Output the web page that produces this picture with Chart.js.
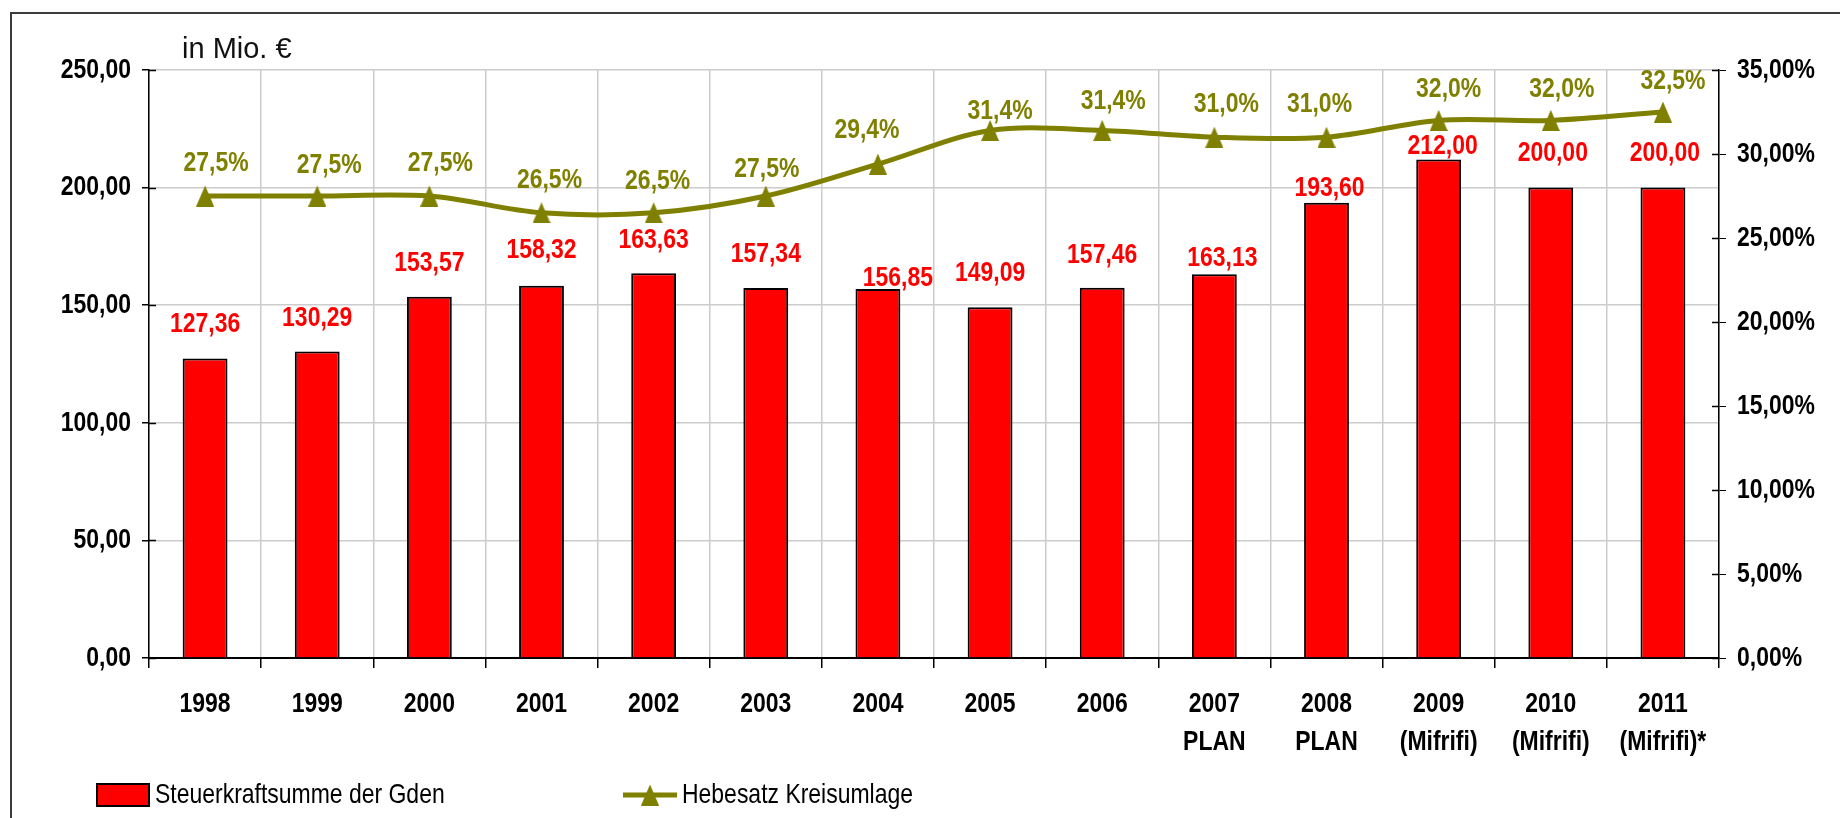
<!DOCTYPE html>
<html>
<head>
<meta charset="utf-8">
<title>Steuerkraftsumme der Gden / Hebesatz Kreisumlage</title>
<script src="https://cdn.jsdelivr.net/npm/chart.js@4.4.1/dist/chart.umd.min.js"></script>
<style>
  html, body { margin: 0; padding: 0; background: #fff; }
  #wrap { width: 1840px; height: 818px; overflow: hidden; }
</style>
</head>
<body>
<div id="wrap"><canvas id="steuerChart" width="1840" height="818"></canvas></div>
<script>
// Daten
const jahre = ['1998', '1999', '2000', '2001', '2002', '2003', '2004', '2005', '2006', '2007', '2008', '2009', '2010', '2011'];
const zusatz = ['', '', '', '', '', '', '', '', '', 'PLAN', 'PLAN', '(Mifrifi)', '(Mifrifi)', '(Mifrifi)*'];
const steuerkraft = [127.36, 130.29, 153.57, 158.32, 163.63, 157.34, 156.85, 149.09, 157.46, 163.13, 193.60, 212.00, 200.00, 200.00];
const hebesatz = [27.5, 27.5, 27.5, 26.5, 26.5, 27.5, 29.4, 31.4, 31.4, 31.0, 31.0, 32.0, 32.0, 32.5];
const euroTicks = [0, 50, 100, 150, 200, 250];
const prozentTicks = [0, 5, 10, 15, 20, 25, 30, 35];

// Verschiebung der Beschriftungen (px), wie im Original von Hand gesetzt
const barLabelDx = [0, 0, 0, 0, 0, 0, 20, 0, 0, 8, 3, 4, 2, 2];
const barLabelDy = [34, 33, 34, 35, 33, 34, 11, 34, 32, 16, 14, 13, 34, 34];
const lineLabelDx = [11, 12, 11, 8, 4, 1, -11, 10, 11, 12, -7, 10, 11, 10];
const lineLabelDy = [33, 31, 33, 33, 32, 27, 34, 19, 29, 33, 33, 31, 31, 31];

const OLIVE = '#808000';
const SANS = '"Liberation Sans", Arial, sans-serif';
const fmt = (v, d) => v.toFixed(d).replace('.', ',');

// Arial Narrow nachbilden: Liberation Sans schmal gezogen
function narrowText(ctx, text, x, y, align, bold) {
    ctx.save();
    ctx.translate(x, y);
    ctx.scale(0.82, 1);
    ctx.font = (bold ? 'bold ' : '') + '28px ' + SANS;
    ctx.textAlign = align;
    ctx.textBaseline = 'middle';
    ctx.fillText(text, 0, 0);
    ctx.restore();
}

// Dreieck als Punktsymbol
const tri = document.createElement('canvas');
tri.width = 18;
tri.height = 21;
const tctx = tri.getContext('2d');
tctx.fillStyle = OLIVE;
tctx.beginPath();
tctx.moveTo(9, 0);
tctx.lineTo(18, 21);
tctx.lineTo(0, 21);
tctx.closePath();
tctx.fill();

const extras = {
    id: 'extras',
    beforeDraw(chart) {
        const ctx = chart.ctx;
        ctx.save();
        ctx.fillStyle = '#fff';
        ctx.fillRect(0, 0, chart.width, chart.height);
        ctx.restore();
    },
    afterDatasetsDraw(chart) {
        const ctx = chart.ctx;
        ctx.save();
        ctx.fillStyle = '#ff0000';
        chart.getDatasetMeta(1).data.forEach((bar, i) => {
            narrowText(ctx, fmt(steuerkraft[i], 2), bar.x + barLabelDx[i], bar.y - barLabelDy[i], 'center', true);
        });
        ctx.fillStyle = OLIVE;
        chart.getDatasetMeta(0).data.forEach((pt, i) => {
            narrowText(ctx, fmt(hebesatz[i], 1) + '%', pt.x + lineLabelDx[i], pt.y - lineLabelDy[i], 'center', true);
        });
        ctx.restore();
    },
    afterDraw(chart) {
        const ctx = chart.ctx;
        const x = chart.scales.x;
        const y = chart.scales.y;
        const y1 = chart.scales.y1;
        ctx.save();

        // Teilstriche nach innen
        ctx.strokeStyle = '#000';
        ctx.lineWidth = 1.5;
        euroTicks.forEach(v => {
            const py = Math.round(y.getPixelForValue(v)) + 0.5;
            ctx.beginPath();
            ctx.moveTo(y.right, py);
            ctx.lineTo(y.right + 7, py);
            ctx.stroke();
        });
        prozentTicks.forEach(v => {
            const py = Math.round(y1.getPixelForValue(v)) + 0.5;
            ctx.beginPath();
            ctx.moveTo(y1.left - 7, py);
            ctx.lineTo(y1.left, py);
            ctx.stroke();
        });

        // Achsenbeschriftungen
        ctx.fillStyle = '#000';
        euroTicks.forEach(v => {
            narrowText(ctx, fmt(v, 2), y.right - 18, y.getPixelForValue(v), 'right', true);
        });
        prozentTicks.forEach(v => {
            narrowText(ctx, fmt(v, 2) + '%', y1.left + 18, y1.getPixelForValue(v), 'left', true);
        });
        jahre.forEach((j, i) => {
            const px = x.getPixelForValue(i);
            narrowText(ctx, j, px, 704, 'center', true);
            if (zusatz[i]) narrowText(ctx, zusatz[i], px, 742, 'center', true);
        });

        // Einheit
        ctx.fillStyle = '#111';
        ctx.font = '29px ' + SANS;
        ctx.textAlign = 'left';
        ctx.textBaseline = 'alphabetic';
        ctx.fillText('in Mio. €', 182, 58);

        // Legende
        const ly = 795;
        ctx.fillStyle = '#ff0000';
        ctx.fillRect(97, ly - 11, 52, 22);
        ctx.strokeStyle = '#000';
        ctx.lineWidth = 2;
        ctx.strokeRect(97, ly - 11, 52, 22);
        ctx.fillStyle = '#000';
        narrowText(ctx, chart.data.datasets[1].label, 155, ly, 'left', false);

        ctx.strokeStyle = OLIVE;
        ctx.lineWidth = 5;
        ctx.beginPath();
        ctx.moveTo(623, ly);
        ctx.lineTo(677, ly);
        ctx.stroke();
        ctx.drawImage(tri, 650 - tri.width / 2, ly - tri.height / 2);
        ctx.fillStyle = '#000';
        narrowText(ctx, chart.data.datasets[0].label, 682, ly, 'left', false);

        // Rahmen
        ctx.strokeStyle = '#3c3c3c';
        ctx.lineWidth = 2;
        ctx.strokeRect(11, 13, 1900, 900);
        ctx.restore();
    }
};

const ctx = document.getElementById('steuerChart').getContext('2d');
const steuerChart = new Chart(ctx, {
    type: 'bar',
    data: {
        labels: jahre.map((j, i) => zusatz[i] ? [j, zusatz[i]] : j),
        datasets: [{
            type: 'line',
            label: 'Hebesatz Kreisumlage',
            data: hebesatz,
            yAxisID: 'y1',
            borderColor: OLIVE,
            borderWidth: 5,
            tension: 0.33,
            pointStyle: tri,
            pointRadius: 10,
            fill: false,
            order: 0
        }, {
            type: 'bar',
            label: 'Steuerkraftsumme der Gden',
            data: steuerkraft,
            yAxisID: 'y',
            backgroundColor: '#ff0000',
            borderColor: '#000',
            borderWidth: 2,
            barPercentage: 0.4,
            categoryPercentage: 1,
            order: 1
        }]
    },
    options: {
        responsive: false,
        animation: false,
        devicePixelRatio: 1,
        layout: {
            padding: { top: 70, left: 0, right: 0, bottom: 0 }
        },
        plugins: {
            legend: { display: false },
            tooltip: { enabled: false }
        },
        scales: {
            x: {
                offset: true,
                afterFit: s => { s.height = 160; },
                grid: {
                    offset: true,
                    color: '#cccccc',
                    lineWidth: 1.5,
                    tickColor: '#000',
                    tickLength: 10
                },
                border: { color: '#000', width: 2 },
                ticks: { display: false, autoSkip: false }
            },
            y: {
                position: 'left',
                min: 0,
                max: 250,
                afterFit: s => { s.width = 149; },
                afterBuildTicks: s => { s.ticks = euroTicks.map(v => ({ value: v })); },
                grid: {
                    color: '#cccccc',
                    lineWidth: 1.5,
                    tickColor: '#000',
                    tickLength: 7
                },
                border: { color: '#000', width: 1.5 },
                ticks: { display: false }
            },
            y1: {
                position: 'right',
                min: 0,
                max: 35,
                afterFit: s => { s.width = 121; },
                afterBuildTicks: s => { s.ticks = prozentTicks.map(v => ({ value: v })); },
                grid: {
                    drawOnChartArea: false,
                    tickColor: '#000',
                    tickLength: 7
                },
                border: { color: '#000', width: 1.5 },
                ticks: { display: false }
            }
        }
    },
    plugins: [extras]
});
</script>
</body>
</html>
